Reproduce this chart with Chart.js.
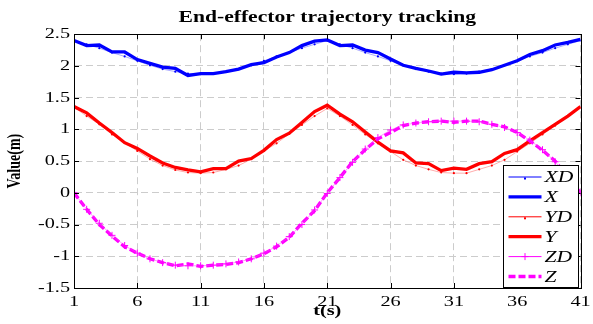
<!DOCTYPE html>
<html>
<head>
<meta charset="utf-8">
<script src="https://cdn.jsdelivr.net/npm/chart.js@4.4.1/dist/chart.umd.min.js"></script>
<style>
  html, body { margin: 0; padding: 0; background: #fff; }
</style>
</head>
<body>
<canvas id="traj" width="593" height="324"></canvas>
<script>
// time samples (s)
const tSteps = [1, 2, 3, 4, 5, 6, 7, 8, 9, 10, 11, 12, 13, 14, 15, 16, 17, 18, 19, 20,
  21, 22, 23, 24, 25, 26, 27, 28, 29, 30, 31, 32, 33, 34, 35, 36, 37, 38, 39, 40, 41];
const tTicks = [1, 6, 11, 16, 21, 26, 31, 36, 41];

// desired trajectory
const XD = [2.40, 2.34, 2.28, 2.21, 2.15, 2.08, 2.01, 1.95, 1.91, 1.88, 1.87, 1.88, 1.91, 1.95, 2.01, 2.08, 2.15, 2.21, 2.28, 2.34,
  2.40, 2.34, 2.28, 2.21, 2.15, 2.08, 2.01, 1.95, 1.91, 1.88, 1.87, 1.88, 1.91, 1.95, 2.01, 2.08, 2.15, 2.21, 2.28, 2.34, 2.40];
const YD = [1.35, 1.21, 1.08, 0.92, 0.79, 0.66, 0.53, 0.43, 0.36, 0.32, 0.31, 0.32, 0.37, 0.43, 0.53, 0.66, 0.78, 0.93, 1.07, 1.21,
  1.33, 1.21, 1.07, 0.92, 0.78, 0.65, 0.52, 0.43, 0.37, 0.32, 0.31, 0.31, 0.37, 0.43, 0.52, 0.65, 0.78, 0.92, 1.06, 1.21, 1.34];
const ZD = [0.00, -0.26, -0.48, -0.67, -0.83, -0.95, -1.04, -1.10, -1.14, -1.15, -1.15, -1.14, -1.12, -1.09, -1.04, -0.95, -0.84, -0.69, -0.50, -0.27,
  -0.01, 0.24, 0.48, 0.69, 0.87, 0.99, 1.07, 1.10, 1.12, 1.13, 1.13, 1.13, 1.12, 1.08, 1.03, 0.95, 0.83, 0.68, 0.49, 0.25, 0.00];

// tracked trajectory
const X = [2.40, 2.32, 2.33, 2.22, 2.22, 2.10, 2.04, 1.98, 1.96, 1.85, 1.88, 1.88, 1.91, 1.95, 2.02, 2.05, 2.14, 2.21, 2.32, 2.39,
  2.41, 2.32, 2.33, 2.25, 2.21, 2.11, 2.01, 1.96, 1.92, 1.87, 1.90, 1.89, 1.90, 1.94, 2.01, 2.08, 2.18, 2.24, 2.33, 2.37, 2.42];
const Y = [1.36, 1.26, 1.10, 0.95, 0.79, 0.70, 0.58, 0.47, 0.40, 0.36, 0.33, 0.38, 0.38, 0.50, 0.54, 0.67, 0.84, 0.94, 1.11, 1.28,
  1.38, 1.24, 1.12, 0.96, 0.80, 0.66, 0.63, 0.47, 0.46, 0.35, 0.39, 0.37, 0.46, 0.49, 0.62, 0.68, 0.82, 0.95, 1.08, 1.21, 1.36];
const Z = [0.00, -0.26, -0.50, -0.68, -0.85, -0.95, -1.04, -1.10, -1.15, -1.12, -1.16, -1.14, -1.13, -1.10, -1.04, -0.96, -0.85, -0.70, -0.48, -0.28,
  0.00, 0.24, 0.49, 0.68, 0.85, 0.95, 1.06, 1.10, 1.12, 1.13, 1.11, 1.13, 1.13, 1.08, 1.04, 0.95, 0.82, 0.67, 0.50, 0.25, 0.00];

const yTickLabels = ['-1.5', '-1', '-0.5', '0', '0.5', '1', '1.5', '2', '2.5'];

const serif = 'Liberation Serif, Times New Roman, serif';

function pts(vals) {
  return tSteps.map((t, i) => ({ x: t, y: vals[i] }));
}

const canvas = document.getElementById('traj');
const ctx = canvas.getContext('2d');

// all labels are drawn a bit wider than the font (horizontal stretch around the anchor point)
const TEXT_STRETCH = 1.35;
const baseFillText = CanvasRenderingContext2D.prototype.fillText;
ctx.fillText = function (text, x, y, maxWidth) {
  const m = this.getTransform();
  const p = m.transformPoint(new DOMPoint(x, y));
  this.save();
  this.setTransform(new DOMMatrix().translate(p.x, p.y).scale(TEXT_STRETCH, 1).translate(-p.x, -p.y).multiply(m));
  if (maxWidth === undefined) baseFillText.call(this, text, x, y);
  else baseFillText.call(this, text, x, y, maxWidth);
  this.restore();
};

// MATLAB style box: frame on all sides with inward tick marks
const axesBox = {
  id: 'axesBox',
  afterDatasetsDraw(chart) {
    const { ctx, chartArea: a, scales } = chart;
    ctx.save();
    ctx.strokeStyle = '#000';
    ctx.lineWidth = 1;
    ctx.strokeRect(Math.round(a.left) + 0.5, Math.round(a.top) + 0.5,
      Math.round(a.right - a.left), Math.round(a.bottom - a.top));
    ctx.beginPath();
    tTicks.forEach(t => {
      const x = Math.round(scales.x.getPixelForValue(t)) + 0.5;
      ctx.moveTo(x, a.bottom); ctx.lineTo(x, a.bottom - 5);
      ctx.moveTo(x, a.top); ctx.lineTo(x, a.top + 5);
    });
    scales.y.ticks.forEach(tk => {
      const y = Math.round(scales.y.getPixelForValue(tk.value)) + 0.5;
      ctx.moveTo(a.left, y); ctx.lineTo(a.left + 5, y);
      ctx.moveTo(a.right, y); ctx.lineTo(a.right - 5, y);
    });
    ctx.stroke();
    ctx.restore();
  }
};

// boxed legend in the lower right corner of the plot
const legendBox = {
  id: 'legendBox',
  afterDraw(chart) {
    const { ctx, chartArea: a } = chart;
    const w = 75, h = 122;
    const x0 = Math.round(a.right) - 77.5, y0 = Math.round(a.bottom) - 122.5;
    ctx.save();
    ctx.fillStyle = '#fff';
    ctx.fillRect(x0, y0, w, h);
    ctx.strokeStyle = '#000';
    ctx.lineWidth = 1;
    ctx.strokeRect(x0, y0, w, h);
    ctx.font = 'italic 16px ' + serif;
    ctx.textBaseline = 'middle';
    ctx.textAlign = 'left';
    chart.data.datasets.forEach((ds, i) => {
      const y = y0 + 11.5 + i * 19.9;
      const lx1 = x0 + 5, lx2 = x0 + 38, mid = (lx1 + lx2) / 2;
      const col = ds.pointBackgroundColor || ds.borderColor;
      ctx.strokeStyle = col;
      ctx.lineWidth = ds.borderWidth;
      ctx.setLineDash(ds.borderDash || []);
      ctx.beginPath();
      ctx.moveTo(lx1, y); ctx.lineTo(lx2, y);
      ctx.stroke();
      ctx.setLineDash([]);
      if (ds.pointStyle === 'cross') {
        ctx.lineWidth = 1;
        ctx.beginPath();
        ctx.moveTo(mid - 3.5, y); ctx.lineTo(mid + 3.5, y);
        ctx.moveTo(mid, y - 3.5); ctx.lineTo(mid, y + 3.5);
        ctx.stroke();
      } else if (ds.pointRadius > 0) {
        ctx.fillStyle = col;
        ctx.fillRect(mid - 1, y + 0.5, 2, 2);
      }
      ctx.fillStyle = '#000';
      ctx.fillText(ds.label, x0 + 41, y + 1);
    });
    ctx.restore();
  }
};

new Chart(ctx, {
  type: 'line',
  data: {
    datasets: [
      { label: 'XD', data: pts(XD), borderColor: 'rgba(70,70,255,0.45)', pointBackgroundColor: '#0000ff',
        borderWidth: 1, pointRadius: 1.1, pointBorderWidth: 0, order: 6 },
      { label: 'X', data: pts(X), borderColor: '#0000ff', borderWidth: 3.3, pointRadius: 0, order: 5 },
      { label: 'YD', data: pts(YD), borderColor: 'rgba(255,70,70,0.45)', pointBackgroundColor: '#ff0000',
        borderWidth: 1, pointRadius: 1.1, pointBorderWidth: 0, order: 4 },
      { label: 'Y', data: pts(Y), borderColor: '#ff0000', borderWidth: 3.3, pointRadius: 0, order: 3 },
      { label: 'ZD', data: pts(ZD), borderColor: 'rgba(255,60,255,0.5)', pointBackgroundColor: '#ff00ff',
        pointBorderColor: '#ff00ff', borderWidth: 1, pointStyle: 'cross', pointRadius: 3.5, pointBorderWidth: 1, order: 1 },
      { label: 'Z', data: pts(Z), borderColor: '#ff00ff', borderWidth: 3.3, borderDash: [7, 3],
        pointRadius: 0, order: 2 }
    ]
  },
  options: {
    responsive: false,
    devicePixelRatio: 1,
    animation: false,
    layout: { padding: { left: 0, right: 9, top: 0, bottom: 0 } },
    elements: { line: { tension: 0, fill: false } },
    plugins: {
      legend: { display: false },
      tooltip: { enabled: false },
      title: {
        display: true,
        fullSize: false,
        text: 'End-effector trajectory tracking',
        color: '#000',
        font: { family: serif, size: 16, weight: 'bold' },
        padding: { top: 8, bottom: 7 }
      }
    },
    scales: {
      x: {
        type: 'linear',
        min: 1,
        max: 41,
        afterBuildTicks: s => { s.ticks = tTicks.map(v => ({ value: v })); },
        afterFit: s => { s.height = 36; },
        grid: { color: '#cccccc', lineWidth: 1, drawTicks: false },
        border: { display: true, color: '#000', dash: [7, 4] },
        ticks: { color: '#000', font: { family: serif, size: 15 }, padding: 5, maxRotation: 0, autoSkip: false },
        title: { display: true, text: 't(s)', color: '#000', font: { family: serif, size: 15, weight: 'bold' },
          padding: { top: 0, bottom: 4 } }
      },
      y: {
        min: -1.5,
        max: 2.5,
        afterFit: s => { s.width = 74; },
        grid: { color: '#cccccc', lineWidth: 1, drawTicks: false },
        border: { display: true, color: '#000', dash: [7, 4] },
        ticks: {
          stepSize: 0.5,
          color: '#000',
          font: { family: serif, size: 15 },
          padding: 4,
          callback: (v, i) => yTickLabels[i]
        },
        title: { display: true, text: 'Value(m)', color: '#000', font: { family: serif, size: 14, weight: 'bold' },
          padding: { top: 7, bottom: 0 } }
      }
    }
  },
  plugins: [axesBox, legendBox]
});
</script>
</body>
</html>
